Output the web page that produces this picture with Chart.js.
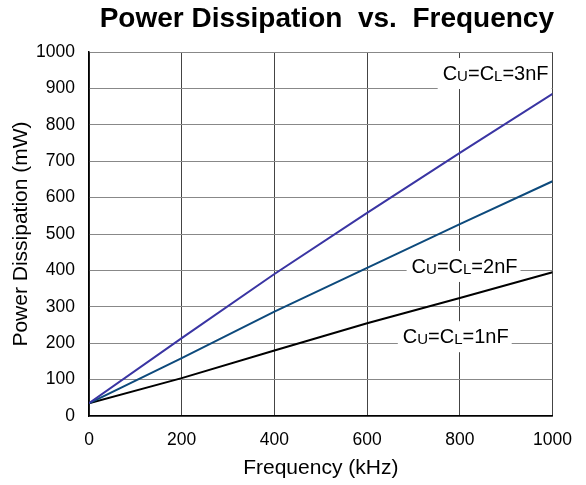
<!DOCTYPE html>
<html>
<head>
<meta charset="utf-8">
<script src="https://cdn.jsdelivr.net/npm/chart.js@4/dist/chart.umd.min.js"></script>
<style>
  body { margin: 0; background: #fff; }
</style>
</head>
<body>
<canvas id="myChart" width="586" height="485"></canvas>
<script>
// frequency in kHz, power in mW
const frequency = [0, 200, 400, 600, 800, 1000];
const power3nF = [35, 214, 390, 558, 723, 885];
const power2nF = [35, 159, 287, 407, 527, 645];
const power1nF = [35, 104, 180, 255, 324, 395];

const curveNames = ['3nF', '2nF', '1nF'];

// where the curve labels sit (data units: left edge, baseline)
const labelSpots = [
    { x: 763, y: 923 },
    { x: 696, y: 393 },
    { x: 677, y: 200 }
];

const FONT = "'Liberation Sans', Arial, sans-serif";

function pts(ys) {
    return frequency.map((f, i) => ({ x: f, y: ys[i] }));
}

// draws "CU=CL=xnF" with small U and L on a white box
const curveLabels = {
    id: 'curveLabels',
    beforeDatasetsDraw(chart) {
        const { ctx, scales: { x, y } } = chart;
        ctx.save();
        curveNames.forEach((name, i) => {
            const parts = [['C', 20], ['U', 15], ['=C', 20], ['L', 15], ['=' + name, 20]];
            let w = 0;
            parts.forEach(p => {
                ctx.font = p[1] + 'px ' + FONT;
                w += ctx.measureText(p[0]).width;
            });
            const left = x.getPixelForValue(labelSpots[i].x);
            const base = y.getPixelForValue(labelSpots[i].y);
            ctx.fillStyle = '#fff';
            ctx.fillRect(left - 5, base - 22, w + 8, 31);
            ctx.fillStyle = '#000';
            ctx.textBaseline = 'alphabetic';
            ctx.textAlign = 'left';
            let cx = left;
            parts.forEach(p => {
                ctx.font = p[1] + 'px ' + FONT;
                ctx.fillText(p[0], cx, base + (p[1] < 20 ? 1 : 0));
                cx += ctx.measureText(p[0]).width;
            });
        });
        ctx.restore();
    }
};

const ctx = document.getElementById('myChart');

const data = {
    datasets: [
        { label: 'CU=CL=3nF', data: pts(power3nF), borderColor: '#3a35a3', borderWidth: 2 },
        { label: 'CU=CL=2nF', data: pts(power2nF), borderColor: '#0d4a7c', borderWidth: 2 },
        { label: 'CU=CL=1nF', data: pts(power1nF), borderColor: '#000000', borderWidth: 2 }
    ]
};

const config = {
    type: 'line',
    data: data,
    options: {
        responsive: false,
        animation: false,
        elements: { point: { radius: 0 }, line: { tension: 0 } },
        layout: { padding: { left: 8, right: 32, top: 0, bottom: 4 } },
        plugins: {
            legend: { display: false },
            tooltip: { enabled: false },
            title: {
                display: true,
                text: 'Power Dissipation  vs.  Frequency',
                align: 'end',
                color: '#000',
                font: { family: FONT, size: 28, weight: 'bold' },
                padding: { top: 2, bottom: 16.4 }
            }
        },
        scales: {
            x: {
                type: 'linear',
                min: 0,
                max: 1000,
                ticks: { stepSize: 200, color: '#000', padding: 14, font: { family: FONT, size: 17.5 }, callback: v => String(v) },
                grid: { color: '#444', lineWidth: 1, drawTicks: false },
                border: { color: '#000', width: 1.5 },
                title: { display: true, text: 'Frequency (kHz)', color: '#000', padding: 0, font: { family: FONT, size: 21 } },
                afterFit(scale) { scale.height = 65; }
            },
            y: {
                min: 0,
                max: 1000,
                ticks: { stepSize: 100, color: '#000', padding: 14, font: { family: FONT, size: 17.5 }, callback: v => String(v) },
                grid: { color: '#888', lineWidth: 1, drawTicks: false },
                border: { color: '#000', width: 1.5 },
                title: { display: true, text: 'Power Dissipation (mW)', color: '#000', padding: { top: 1, bottom: 0 }, font: { family: FONT, size: 21 } },
                afterFit(scale) { scale.width = 81; }
            }
        }
    },
    plugins: [curveLabels]
};

const myChart = new Chart(ctx, config);
</script>
</body>
</html>
